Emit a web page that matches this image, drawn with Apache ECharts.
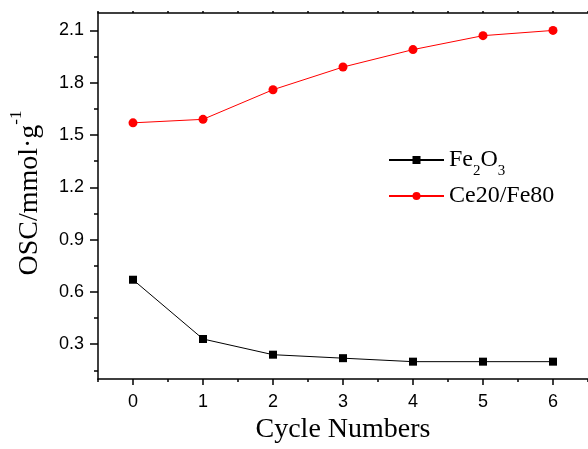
<!DOCTYPE html>
<html>
<head>
<meta charset="utf-8">
<script src="https://cdn.jsdelivr.net/npm/echarts@6/dist/echarts.min.js"></script>
<style>
	html,body{margin:0;padding:0;background:#fff;}
	#main{width:588px;height:449px;}
</style>
</head>
<body>
<div id="main"></div>
<script>
var cycles = [0, 1, 2, 3, 4, 5, 6];
var fe2o3 = [0.67, 0.33, 0.24, 0.22, 0.20, 0.20, 0.20];
var ce20fe80 = [1.57, 1.59, 1.76, 1.89, 1.99, 2.07, 2.10];
var xMinorTicks = [-0.5, 0.5, 1.5, 2.5, 3.5, 4.5, 5.5, 6.5];
var xTopTicks = [-0.5, 0, 0.5, 1, 1.5, 2, 2.5, 3, 3.5, 4, 4.5, 5, 5.5, 6, 6.5];
var yTicks = [0.3, 0.6, 0.9, 1.2, 1.5, 1.8, 2.1];
var yMinorTicks = [0.15, 0.45, 0.75, 1.05, 1.35, 1.65, 1.95];

var serif = '"Liberation Serif", "Times New Roman", serif';
var sans = '"Liberation Sans", Arial, sans-serif';

function pairs(xs, ys){
	return xs.map(function(x, i){ return [x, ys[i]]; });
}

var myChart = echarts.init(document.getElementById('main'), null, {renderer: 'canvas'});
var axisLine = {show: true, onZero: false, lineStyle: {color: '#000', width: 1.5}};
var noLine = {show: false, onZero: false};
var option = {
	backgroundColor: '#fff',
	animation: false,
	grid: {left: 95, top: 13, width: 499, height: 368},
	legend: {
		orient: 'vertical',
		left: 383,
		top: 143,
		itemWidth: 55,
		itemHeight: 10,
		itemGap: 5,
		data: ['Fe2O3', 'Ce20/Fe80'],
		formatter: function(name){
			if(name == 'Fe2O3'){
				return '{n|Fe}{s|2}{n|O}{s|3}';
			}
			return '{n|' + name + '}';
		},
		textStyle: {
			color: '#000',
			fontFamily: serif,
			fontSize: 24,
			rich: {
				n: {fontFamily: serif, fontSize: 24, lineHeight: 30, color: '#000'},
				s: {fontFamily: serif, fontSize: 15, lineHeight: 30, color: '#000', verticalAlign: 'bottom', padding: [0, 0, -4, 0]}
			}
		}
	},
	xAxis: [
		{
			type: 'value', position: 'bottom', min: -0.5, max: 6.5,
			name: 'Cycle Numbers', nameLocation: 'middle', nameGap: 36,
			nameTextStyle: {fontFamily: serif, fontSize: 28, color: '#000'},
			axisLine: axisLine,
			axisTick: {show: true, customValues: cycles, length: 6, lineStyle: {color: '#000', width: 1.5}},
			axisLabel: {customValues: cycles, margin: 14, fontFamily: sans, fontSize: 18, color: '#000'},
			splitLine: {show: false}
		},
		{
			type: 'value', position: 'bottom', min: -0.5, max: 6.5,
			axisLine: noLine,
			axisTick: {show: true, customValues: xMinorTicks, length: 3, lineStyle: {color: '#000', width: 1.5}},
			axisLabel: {show: false},
			splitLine: {show: false}
		},
		{
			type: 'value', position: 'top', min: -0.5, max: 6.5,
			axisLine: axisLine,
			axisTick: {show: true, customValues: xTopTicks, length: 2, lineStyle: {color: '#000', width: 1.5}},
			axisLabel: {show: false},
			splitLine: {show: false}
		}
	],
	yAxis: [
		{
			type: 'value', position: 'left', min: 0.1, max: 2.2,
			name: '{n|OSC/mmol·g}{s|-1}', nameLocation: 'middle', nameGap: 52,
			nameTextStyle: {
				fontFamily: serif, fontSize: 28, color: '#000', padding: [0, 0, 0, 6],
				rich: {
					n: {fontFamily: serif, fontSize: 28, lineHeight: 32, color: '#000'},
					s: {fontFamily: serif, fontSize: 17, lineHeight: 32, color: '#000', verticalAlign: 'top', padding: [-6, 0, 0, 0]}
				}
			},
			axisLine: axisLine,
			axisTick: {show: true, customValues: yTicks, length: 8, lineStyle: {color: '#000', width: 1.5}},
			axisLabel: {
				customValues: yTicks, margin: 14, fontFamily: sans, fontSize: 18, color: '#000',
				formatter: function(v){ return v.toFixed(1); }
			},
			splitLine: {show: false}
		},
		{
			type: 'value', position: 'left', min: 0.1, max: 2.2,
			axisLine: noLine,
			axisTick: {show: true, customValues: yMinorTicks, length: 4, lineStyle: {color: '#000', width: 1.5}},
			axisLabel: {show: false},
			splitLine: {show: false}
		}
	],
	series: [
		{
			name: 'Fe2O3', type: 'line', xAxisIndex: 0, yAxisIndex: 0,
			data: pairs(cycles, fe2o3),
			symbol: 'rect', symbolSize: 8,
			itemStyle: {color: '#000'},
			lineStyle: {color: '#000', width: 1}
		},
		{
			name: 'Ce20/Fe80', type: 'line', xAxisIndex: 0, yAxisIndex: 0,
			data: pairs(cycles, ce20fe80),
			symbol: 'circle', symbolSize: 9,
			itemStyle: {color: '#ff0000'},
			lineStyle: {color: '#ff0000', width: 1}
		}
	]
};
myChart.setOption(option);
</script>
</body>
</html>
